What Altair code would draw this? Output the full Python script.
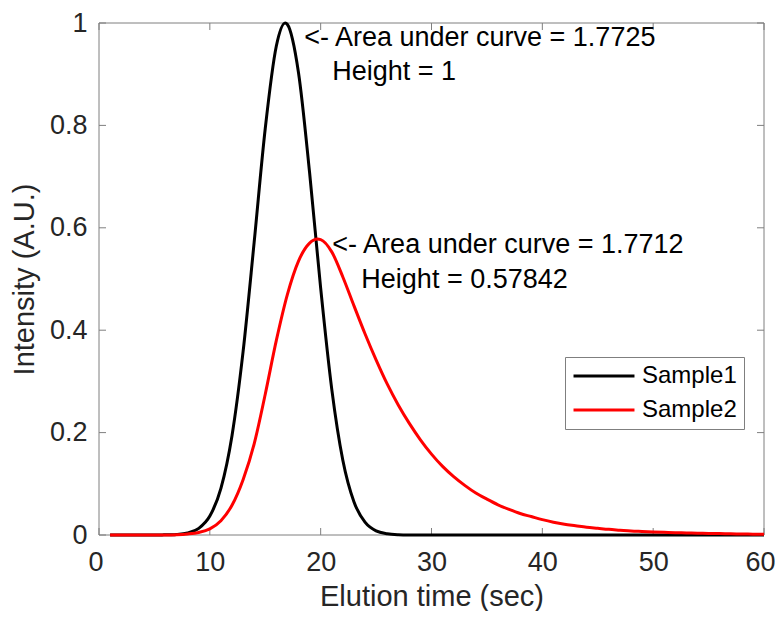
import altair as alt
import pandas as pd

# ---- data ----
time_s1 = [1, 2, 3, 4, 5, 6, 7, 8, 9, 10, 11, 12, 13, 14, 15, 16, 16.8, 17, 18, 19, 20,
           21, 22, 23, 24, 25, 26, 27, 28, 29, 30, 35, 40, 45, 50, 55, 60]
int_s1 = [0, 0, 0, 0, 0.0001, 0.0003, 0.0011, 0.004, 0.013, 0.037, 0.091, 0.194, 0.358,
          0.572, 0.794, 0.955, 1.0, 0.997, 0.903, 0.708, 0.482, 0.285, 0.146, 0.065, 0.025,
          0.008, 0.0024, 0.0006, 0.0001, 0, 0, 0, 0, 0, 0, 0, 0]

time_s2 = [1, 2, 3, 4, 5, 6, 7, 8, 9, 10, 11, 12, 13, 14, 15, 16, 17, 18, 19, 19.7, 20,
           21, 22, 23, 24, 25, 26, 27, 28, 29, 30, 31, 32, 33, 34, 35, 36, 37, 38, 39, 40,
           41, 42, 43, 44, 45, 46, 47, 48, 49, 50, 51, 52, 53, 54, 55, 56, 57, 58, 59, 60]
int_s2 = [0, 0, 0, 0, 0, 0, 0.0005, 0.002, 0.005, 0.012, 0.028, 0.058, 0.108, 0.178, 0.275,
          0.38, 0.47, 0.535, 0.570, 0.578, 0.577, 0.553, 0.504, 0.448, 0.393, 0.342, 0.295,
          0.254, 0.218, 0.186, 0.158, 0.134, 0.114, 0.097, 0.082, 0.070, 0.059, 0.050, 0.042,
          0.036, 0.030, 0.025, 0.021, 0.018, 0.015, 0.013, 0.011, 0.0095, 0.008, 0.007, 0.006,
          0.0052, 0.0045, 0.004, 0.0035, 0.0031, 0.0027, 0.0024, 0.002, 0.0017, 0.0015]

series_names = ["Sample1", "Sample2"]
series_colors = ["#000000", "#ff0000"]

x_ticks = [0, 10, 20, 30, 40, 50, 60]
y_ticks = [0, 0.2, 0.4, 0.6, 0.8, 1.0]

peak_time = [16.8, 19.7]
peak_height = [1.0, 0.578]
area_labels = ["<- Area under curve = 1.7725", "<- Area under curve = 1.7712"]
height_labels = ["Height = 1", "Height = 0.57842"]

# ---- chart ----
W, H = 665, 512
TL = 7  # inner tick length
FONT = "Liberation Sans"
TXT = "#262626"
BOX = "#7f7f7f"

xs = alt.Scale(domain=[0, 60], nice=False, zero=False)
ys = alt.Scale(domain=[0, 1], nice=False)

x_axis = alt.Axis(values=x_ticks, format="d", ticks=False, tickSize=0, domain=False, grid=False,
                  labelFlush=True, labelFlushOffset=11, labelFontSize=27, labelPadding=14,
                  labelColor=TXT, labelFont=FONT, title="Elution time (sec)", titleFontSize=29,
                  titlePadding=7, titleColor=TXT, titleFont=FONT, titleFontWeight="normal")
y_axis = alt.Axis(values=y_ticks, format=".1~f", ticks=False, tickSize=0, domain=False, grid=False,
                  labelFlush=False, labelFontSize=27, labelPadding=12, labelColor=TXT,
                  labelFont=FONT, title="Intensity (A.U.)", titleFontSize=29, titlePadding=10,
                  titleColor=TXT, titleFont=FONT, titleFontWeight="normal")

x_enc = alt.X("t:Q", scale=xs, axis=x_axis)
y_enc = alt.Y("v:Q", scale=ys, axis=y_axis)

color_enc = alt.Color(
    "series:N",
    scale=alt.Scale(domain=series_names, range=series_colors),
    legend=alt.Legend(title=None, orient="none", legendX=466, legendY=334,
                      direction="vertical", symbolType="M-3,0H3", symbolSize=413,
                      symbolStrokeWidth=3, symbolOffset=20, labelOffset=26,
                      labelFontSize=24, labelFont=FONT,
                      labelColor="#000000", strokeColor=BOX, fillColor="white",
                      padding=7, rowPadding=10),
)

df1 = pd.DataFrame({"t": time_s1, "v": int_s1, "series": series_names[0]})
df2 = pd.DataFrame({"t": time_s2, "v": int_s2, "series": series_names[1]})

# axes box
box = alt.Chart(pd.DataFrame({"k": [0]})).mark_rect(
    fill=None, fillOpacity=0, stroke=BOX, strokeWidth=1
).encode(x=alt.value(0), x2=alt.value(W), y=alt.value(0), y2=alt.value(H))

line1 = alt.Chart(df1).mark_line(strokeWidth=3, interpolate="monotone").encode(
    x=x_enc, y=y_enc, color=color_enc)
line2 = alt.Chart(df2).mark_line(strokeWidth=3, interpolate="monotone").encode(
    x=x_enc, y=y_enc, color=color_enc)

xt = pd.DataFrame({"t": x_ticks})
yt = pd.DataFrame({"v": y_ticks})
rule_style = dict(color=BOX, strokeWidth=1)
xt_bottom = alt.Chart(xt).mark_rule(**rule_style).encode(
    x=x_enc, y=alt.value(H), y2=alt.value(H - TL))
xt_top = alt.Chart(xt).mark_rule(**rule_style).encode(
    x=x_enc, y=alt.value(0), y2=alt.value(TL))
yt_left = alt.Chart(yt).mark_rule(**rule_style).encode(
    y=y_enc, x=alt.value(0), x2=alt.value(TL))
yt_right = alt.Chart(yt).mark_rule(**rule_style).encode(
    y=y_enc, x=alt.value(W), x2=alt.value(W - TL))

ann = pd.DataFrame({"t": peak_time, "v": peak_height, "a": area_labels, "h": height_labels})
txt_style = dict(align="left", baseline="alphabetic", fontSize=27, font=FONT, color="#000000")
a1 = alt.Chart(ann.iloc[[0]]).mark_text(dx=19, dy=23, **txt_style).encode(x=x_enc, y=y_enc, text="a:N")
h1 = alt.Chart(ann.iloc[[0]]).mark_text(dx=47, dy=57, **txt_style).encode(x=x_enc, y=y_enc, text="h:N")
a2 = alt.Chart(ann.iloc[[1]]).mark_text(dx=15, dy=14, **txt_style).encode(x=x_enc, y=y_enc, text="a:N")
h2 = alt.Chart(ann.iloc[[1]]).mark_text(dx=44, dy=49, **txt_style).encode(x=x_enc, y=y_enc, text="h:N")

chart = alt.layer(
    box, xt_bottom, xt_top, yt_left, yt_right, line1, line2, a1, h1, a2, h2
).properties(
    width=W, height=H,
    background="white",
    autosize=alt.AutoSizeParams(type="none"),
    padding={"left": 91, "top": 15, "right": 11, "bottom": 76},
).configure_view(strokeWidth=0)

chart.save("out.html", embed_options={"renderer": "svg", "actions": False})
